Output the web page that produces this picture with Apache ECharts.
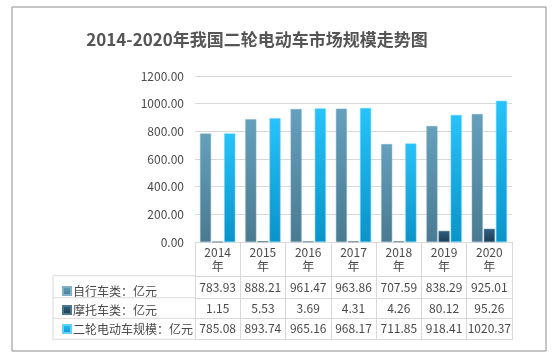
<!DOCTYPE html>
<html><head><meta charset="utf-8">
<script src="https://cdn.jsdelivr.net/npm/echarts@6/dist/echarts.min.js"></script>
<style>html,body{margin:0;padding:0;background:#fff}#c{width:556px;height:362px}</style>
</head><body><div id="c"></div>
<script>
var years = ['2014','2015','2016','2017','2018','2019','2020'];
var bikeName = '自行车类：亿元';
var motoName = '摩托车类：亿元';
var eName = '二轮电动车规模：亿元';
var bike = [783.93, 888.21, 961.47, 963.86, 707.59, 838.29, 925.01];
var moto = [1.15, 5.53, 3.69, 4.31, 4.26, 80.12, 95.26];
var ebike = [785.08, 893.74, 965.16, 968.17, 711.85, 918.41, 1020.37];
var yTicks = {min: 0, max: 1200, interval: 200};

var FONT = '"Noto Sans CJK SC", "Noto Sans", sans-serif';
var TXT = '#4a4a4a';
var LINE = '#d9d9d9';
function grad(a, b) {
  return {type: 'linear', x: 0, y: 0, x2: 0, y2: 1, colorStops: [{offset: 0, color: a}, {offset: 1, color: b}]};
}
function fmt(v) { return v.toFixed(2); }
function rowAxis(data, offset, margin, showLabel) {
  return {
    type: 'category', data: data, position: 'bottom', offset: offset,
    axisLine: {show: true, lineStyle: {color: LINE}},
    axisTick: {show: false},
    axisLabel: {show: showLabel, interval: 0, margin: margin, color: TXT, fontSize: 12, fontFamily: FONT, lineHeight: 14},
    splitLine: {show: false}
  };
}

var chart = echarts.init(document.getElementById('c'));
chart.setOption({
  animation: false,
  title: {
    text: '2014-2020年我国二轮电动车市场规模走势图',
    left: 252, top: 26, textAlign: 'center',
    textStyle: {color: '#555555', fontSize: 17, fontWeight: 'bold', fontFamily: FONT}
  },
  legend: {
    orient: 'vertical', left: 57, top: 280, itemWidth: 8, itemHeight: 8, itemGap: 7,
    icon: 'rect',
    textStyle: {color: TXT, fontSize: 12, fontFamily: FONT, padding: [0, 0, 0, -3]},
    data: [bikeName, motoName, eName]
  },
  grid: {left: 195, right: 44, top: 76, bottom: 120, containLabel: false},
  yAxis: {
    type: 'value', min: yTicks.min, max: yTicks.max, interval: yTicks.interval,
    axisLabel: {formatter: fmt, color: TXT, fontSize: 12, fontFamily: FONT, margin: 11},
    axisLine: {show: false}, axisTick: {show: false},
    splitLine: {lineStyle: {color: LINE}}
  },
  xAxis: [
    {
      type: 'category', data: years, position: 'bottom',
      axisLine: {show: true, lineStyle: {color: LINE}},
      axisTick: {show: true, length: 98, lineStyle: {color: LINE}},
      axisLabel: {interval: 0, formatter: function (v) { return v + '\n年'; }, color: TXT, fontSize: 12, fontFamily: FONT, lineHeight: 14.5, margin: 3}
    },
    rowAxis(bike.map(fmt), 34, 4, true),
    rowAxis(moto.map(fmt), 56, 3, true),
    rowAxis(ebike.map(fmt), 76.6, 3, true),
    rowAxis(years, 97.6, 3, false)
  ],
  series: [
    {name: bikeName, type: 'bar', xAxisIndex: 0, data: bike, barWidth: 11, barGap: '10%',
     itemStyle: {color: grad('#65a0bd', '#4a7a91'), borderColor: '#7fb0c8', borderWidth: 0.5}},
    {name: motoName, type: 'bar', xAxisIndex: 0, data: moto, barWidth: 11, barGap: '10%',
     itemStyle: {color: grad('#2f5f80', '#1d3d55'), borderColor: '#4d7893', borderWidth: 0.5}},
    {name: eName, type: 'bar', xAxisIndex: 0, data: ebike, barWidth: 11, barGap: '10%',
     itemStyle: {color: grad('#27c3fa', '#0a93c9'), borderColor: '#5fd3fb', borderWidth: 0.5}}
  ],
  graphic: [
    {type: 'rect', shape: {x: 12, y: 7, width: 534, height: 344}, style: {fill: 'none', stroke: '#8c8c8c', lineWidth: 1}, silent: true},
    {type: 'line', shape: {x1: 53, y1: 275.7, x2: 195, y2: 275.7}, style: {stroke: LINE, lineWidth: 1}, silent: true},
    {type: 'line', shape: {x1: 53, y1: 297.7, x2: 195, y2: 297.7}, style: {stroke: LINE, lineWidth: 1}, silent: true},
    {type: 'line', shape: {x1: 53, y1: 318.3, x2: 195, y2: 318.3}, style: {stroke: LINE, lineWidth: 1}, silent: true},
    {type: 'line', shape: {x1: 53, y1: 339.3, x2: 195, y2: 339.3}, style: {stroke: LINE, lineWidth: 1}, silent: true},
    {type: 'line', shape: {x1: 53, y1: 275.7, x2: 53, y2: 339.3}, style: {stroke: LINE, lineWidth: 1}, silent: true}
  ]
});
</script></body></html>
